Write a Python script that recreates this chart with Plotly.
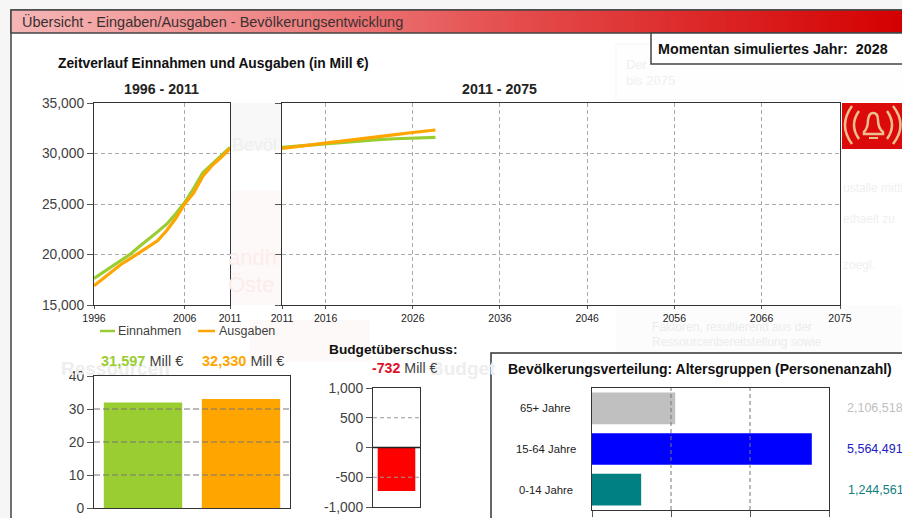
import plotly.graph_objects as go

W, H = 902, 518

# ---- data ----
hist_years = [1996, 1997, 1998, 1999, 2000, 2001, 2002, 2003, 2004, 2005, 2006, 2007, 2008, 2009, 2010, 2011]
hist_income = [17620, 18220, 18780, 19440, 20030, 20800, 21500, 22240, 23000, 24000, 25150, 26550, 28100, 28950, 29770, 30600]
hist_spend = [16900, 17620, 18380, 19040, 19600, 20200, 20800, 21350, 22350, 23560, 25000, 26100, 27750, 28800, 29600, 30500]
sim_years = [2011, 2014, 2016, 2018, 2020, 2022, 2024, 2026, 2028.6]
sim_income = [30600, 30830, 30990, 31100, 31250, 31370, 31460, 31520, 31597]
sim_spend = [30500, 30800, 30990, 31200, 31420, 31640, 31860, 32080, 32330]
y_ticks = [15000, 20000, 25000, 30000, 35000]
hist_ticks = [1996, 2006, 2011]
sim_ticks = [2011, 2016, 2026, 2036, 2046, 2056, 2066, 2075]
bar_cats = ["Einnahmen", "Ausgaben"]
bar_vals = [32, 33]
bar_ticks = [0, 10, 20, 30, 40]
budget_val = [-732]
budget_ticks = [-1000, -500, 0, 500, 1000]
budget_labels = ["-1,000", "-500", "0", "500", "1,000"]
age_groups = ["0-14 Jahre", "15-64 Jahre", "65+ Jahre"]
age_values = [1244561, 5564491, 2106518]
age_colors = ["#008080", "#0000FF", "#C0C0C0"]
age_ticks = [0, 2000000, 4000000, 6000000]

GREEN, ORANGE = "#9ACD32", "#FFA500"
FONT = "Liberation Sans"
INK = "#3f3f3f"
GRID = "#aaaaaa"


def px(x):
    return x / W


def py(y):
    return 1 - y / H


def xd(a, b):
    return [px(a), px(b)]


def yd(top, bottom):
    return [py(bottom), py(top)]


shapes, annotations = [], []


def rect(x0, y0, x1, y1, fill=None, line=None, lw=1, layer="below"):
    shapes.append(dict(type="rect", xref="paper", yref="paper", x0=px(x0), x1=px(x1), y0=py(y0), y1=py(y1),
                       fillcolor=fill or "rgba(0,0,0,0)", line=dict(color=line or "rgba(0,0,0,0)", width=lw if line else 0),
                       layer=layer))


def text(x, y, s, size=12, color="#111", anchor="left"):
    annotations.append(dict(xref="paper", yref="paper", x=px(x), y=py(y), text=s, showarrow=False, xanchor=anchor,
                            yanchor="middle", align=anchor, font=dict(family=FONT, size=size, color=color),
                            borderpad=0, borderwidth=0))


def path(points_svg, color, width=0, fill=None):
    shapes.append(dict(type="path", xref="paper", yref="paper", path=points_svg, layer="above",
                       fillcolor=fill or "rgba(0,0,0,0)",
                       line=dict(color=color, width=width)))


def P(x, y):
    return f"{px(x):.5f},{py(y):.5f}"


# ---- page frame ----
rect(0, 0, W, H, fill="#f6f6f6")
rect(11, 10, W + 4, H + 4, fill="#ffffff", line="#444444", lw=1.5)

# faint page behind the charts
rect(231, 103, 281, 150, fill="#f8f8f8")
rect(231, 190, 281, 305, fill="#fef9f9")
rect(616, 44, 905, 100, fill="#fefefe", line="#f5f5f5")
rect(250, 320, 370, 362, fill="#fef9f9")
rect(616, 305, 905, 352, fill="#fcfcfc")
text(232, 145, "Bevöl", 18, "#efefef")
text(228, 257, "andh", 22, "#fcecec")
text(228, 284, "Öste", 22, "#fcecec")
text(61, 368, "<b>Ressourcen</b>", 19, "#eeeeee")
text(430, 368, "<b>Budget</b>", 19, "#eeeeee")
text(626, 65, "Der", 13, "#f0f0f0")
text(626, 80, "bis 2075", 13, "#f0f0f0")
text(843, 188, "ustalle mittl", 12, "#f0f0f0")
text(843, 219, "ethaelt zu", 12, "#f0f0f0")
text(843, 265, "zoegl.", 12, "#f0f0f0")
text(652, 327, "Faktoren, resultierend aus der", 12, "#ececec")
text(652, 342, "Ressourcenbereitstellung sowie", 12, "#ececec")

# ---- title bar gradient ----
stops = [(11, (245, 182, 182)), (300, (238, 130, 130)), (500, (229, 80, 80)), (700, (220, 40, 40)), (902, (212, 0, 0))]


def grad(x):
    for (a, ca), (b, cb) in zip(stops, stops[1:]):
        if x <= b:
            t = (x - a) / (b - a)
            return "rgb(%d,%d,%d)" % tuple(round(u + (v - u) * t) for u, v in zip(ca, cb))
    return "rgb(212,0,0)"


for x in range(11, W, 6):
    rect(x, 10, x + 6.5, 33, fill=grad(x + 3))
rect(11, 10, W + 4, 33, line="#444444", lw=1.5)
text(22, 21.5, "Übersicht - Eingaben/Ausgaben - Bevölkerungsentwicklung", 14.5, "#3a3030")

# ---- year box ----
rect(651, 33, W + 4, 64, fill="#ffffff", line="#444444", lw=1.5)
text(658, 49, "<b>Momentan simuliertes Jahr:  2028</b>", 14.3, "#111")

# ---- headings ----
text(58, 63.5, "<b>Zeitverlauf Einnahmen und Ausgaben (in Mill €)</b>", 13.8, "#111")
text(161, 89, "<b>1996 - 2011</b>", 14.2, "#222", "center")
text(499, 89, "<b>2011 - 2075</b>", 14.2, "#222", "center")

# ---- legend ----
for x0, x1, tx, name, col in [(100, 115, 118, bar_cats[0], GREEN), (198, 215, 219, bar_cats[1], ORANGE)]:
    path(f"M{P(x0,331)} L{P(x1,331)}", col, 2.5)
    text(tx, 331, name, 12.5, INK)

# ---- value captions ----
text(101, 361, f'<b><span style="color:{GREEN}">31,597</span></b> Mill €', 14.5, INK)
text(202, 361, f'<b><span style="color:{ORANGE}">32,330</span></b> Mill €', 14.5, INK)
text(393, 349, "<b>Budgetüberschuss:</b>", 13.7, "#111", "center")
text(405, 368, '<b><span style="color:#E0102A">-732</span></b> Mill €', 14.2, INK, "center")

# ---- population panel ----
rect(491, 353, W + 4, H + 4, fill="#ffffff", line="#333333", lw=1.5)
text(508, 368.5, "<b>Bevölkerungsverteilung: Altersgruppen (Personenanzahl)</b>", 14, "#111")
text(847, 408, "2,106,518", 12.5, "#c0c0c0")
text(847, 449, "5,564,491", 12.5, "#2020c0")
text(848, 490, "1,244,561", 12.5, "#108080")
for g in age_groups:
    annotations.append(dict(xref="paper", yref="y5", x=px(545.5), y=g, text=g, showarrow=False, xanchor="center",
                            yanchor="middle", font=dict(family=FONT, size=11.3, color="#222222")))

# ---- alarm icon ----
rect(842, 103, W + 2, 149, fill="#DC0A0A", layer="above")
TAN = "#EBC090"
path(f"M{P(864,132)} Q{P(868,128)} {P(868,120)} Q{P(869,113)} {P(873,113)} Q{P(878,113)} {P(878,120)} "
     f"Q{P(878,128)} {P(883,132)} L{P(883,134)} L{P(864,134)} Z", TAN, 2.5)
path(f"M{P(869,138)} L{P(878,138)}", TAN, 2)
path(f"M{P(859,111)} Q{P(849,125)} {P(859,139)}", TAN, 2.5)
path(f"M{P(852,106)} Q{P(838,125)} {P(852,144)}", TAN, 2.5)
path(f"M{P(887,111)} Q{P(897,125)} {P(887,139)}", TAN, 2.5)
path(f"M{P(893,106)} Q{P(908,125)} {P(893,144)}", TAN, 2.5)

# ---- figure ----
fig = go.Figure()
LW = 3.2
fig.add_trace(go.Scatter(x=hist_years, y=hist_income, mode="lines", name="Einnahmen",
                         line=dict(color=GREEN, width=LW), xaxis="x", yaxis="y", cliponaxis=False))
fig.add_trace(go.Scatter(x=hist_years, y=hist_spend, mode="lines", name="Ausgaben",
                         line=dict(color=ORANGE, width=LW), xaxis="x", yaxis="y", cliponaxis=False))
fig.add_trace(go.Scatter(x=sim_years, y=sim_income, mode="lines", name="Einnahmen",
                         line=dict(color=GREEN, width=LW), xaxis="x2", yaxis="y2"))
fig.add_trace(go.Scatter(x=sim_years, y=sim_spend, mode="lines", name="Ausgaben",
                         line=dict(color=ORANGE, width=LW), xaxis="x2", yaxis="y2"))
fig.add_trace(go.Bar(x=bar_cats, y=bar_vals, marker=dict(color=[GREEN, ORANGE], line=dict(width=0)),
                     width=0.8, xaxis="x3", yaxis="y3"))
fig.add_trace(go.Bar(x=["Budget"], y=budget_val, marker=dict(color="#FF0000", line=dict(width=0)),
                     width=0.8, xaxis="x4", yaxis="y4"))
fig.add_trace(go.Bar(y=age_groups, x=age_values, orientation="h", marker=dict(color=age_colors, line=dict(width=0)),
                     width=0.78, xaxis="x5", yaxis="y5"))

frame = dict(showline=True, linecolor="#333333", linewidth=1.2, mirror=True, zeroline=False, ticks="outside",
             automargin=False,
             ticklen=6, tickcolor="#555555", tickwidth=1, tickfont=dict(family=FONT, size=13.8, color=INK))
grid = dict(showgrid=True, gridcolor=GRID, griddash="4px,3px", gridwidth=1)
nogrid = dict(showgrid=False)
small = dict(family=FONT, size=10.5, color="#222222")

layout = dict(
    width=W, height=H, margin=dict(l=0, r=0, t=0, b=0), autosize=False, paper_bgcolor="#ffffff",
    plot_bgcolor="#ffffff", hovermode=False, font=dict(family=FONT), showlegend=False,
    xaxis=dict(frame, **grid, domain=xd(94, 230), anchor="y", range=[1996, 2011], tickvals=hist_ticks,
               ticktext=[str(t) for t in hist_ticks], tickfont=small, ticklen=3),
    yaxis=dict(frame, **grid, domain=yd(103, 305), anchor="x", range=[15000, 35000], tickvals=y_ticks,
               tickformat=",d"),
    xaxis2=dict(frame, **grid, domain=xd(282, 840), anchor="y2", range=[2011, 2075], tickvals=sim_ticks,
                ticktext=[str(t) for t in sim_ticks], tickfont=small, ticklen=3),
    yaxis2=dict(frame, **grid, domain=yd(103, 305), anchor="x2", range=[15000, 35000], tickvals=y_ticks,
                showticklabels=False),
    xaxis3=dict(frame, **nogrid, domain=xd(94, 290), anchor="y3", range=[-0.5, 1.5], ticks="", showticklabels=False),
    yaxis3=dict(frame, **nogrid, domain=yd(376, 508), anchor="x3", range=[0, 40], tickvals=bar_ticks),
    xaxis4=dict(frame, **nogrid, domain=xd(373, 420), anchor="y4", range=[-0.5, 0.5], ticks="", showticklabels=False),
    yaxis4=dict(frame, **nogrid, domain=yd(388, 507), anchor="x4", range=[-1000, 1000], tickvals=budget_ticks,
                ticktext=budget_labels),
    xaxis5=dict(frame, **nogrid, domain=xd(592, 829), anchor="y5", range=[0, 6000000], tickvals=age_ticks,
                showticklabels=False),
    yaxis5=dict(frame, **nogrid, domain=yd(388, 510), anchor="x5", type="category",
                categoryorder="array", categoryarray=age_groups, ticks="", ticklen=0, showticklabels=False),
)

# dashed lines that sit on top of the bars
for v in bar_ticks[1:-1]:
    shapes.append(dict(type="line", xref="x3 domain", yref="y3", x0=0, x1=1, y0=v, y1=v, layer="above",
                       line=dict(color="#777777", width=1, dash="6px,3px")))
for v in budget_ticks[1:-1]:
    if v != 0:
        shapes.append(dict(type="line", xref="x4 domain", yref="y4", x0=0, x1=1, y0=v, y1=v, layer="above",
                           line=dict(color="#999999", width=1, dash="4px,3px")))
shapes.append(dict(type="line", xref="x4 domain", yref="y4", x0=0, x1=1, y0=0, y1=0, layer="above",
                   line=dict(color="#222222", width=1.3)))
for v in age_ticks[1:-1]:
    shapes.append(dict(type="line", xref="x5", yref="y5 domain", x0=v, x1=v, y0=0, y1=1, layer="above",
                       line=dict(color="#777777", width=1, dash="4px,3px")))

fig.update_layout(**layout)
fig.update_layout(shapes=shapes, annotations=annotations)
post = "document.documentElement.style.margin='0';document.body.style.margin='0';document.body.style.overflow='hidden';"
fig.write_html("out.html", config={"displayModeBar": False}, default_width="902px", default_height="518px",
               post_script=post)
